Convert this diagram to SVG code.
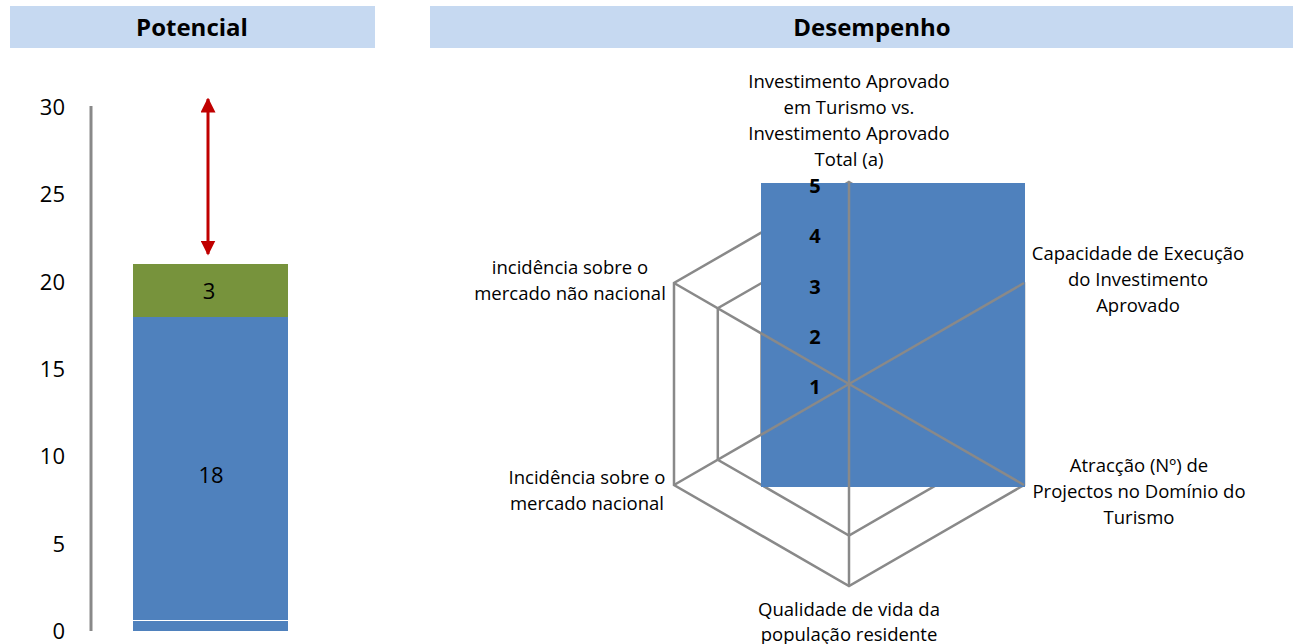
<svg xmlns="http://www.w3.org/2000/svg" width="1293" height="644" viewBox="0 0 1293 644">
<style>
.hdr{fill:#C6D9F1}
.ht{font-family:"Open Sans","Liberation Sans",sans-serif;font-weight:bold;font-size:24px;fill:#000;text-anchor:middle}
.t{font-family:"Open Sans","Liberation Sans",sans-serif;font-size:18.5px;fill:#000;text-anchor:middle}
.ax{font-family:"Open Sans","Liberation Sans",sans-serif;font-size:22px;fill:#000;text-anchor:end}
.bl{font-family:"Open Sans","Liberation Sans",sans-serif;font-size:22px;fill:#000;text-anchor:middle}
.sc{font-family:"Open Sans","Liberation Sans",sans-serif;font-weight:bold;font-size:20px;fill:#000;text-anchor:middle}
.grid{fill:none;stroke:#898989;stroke-width:2.5;stroke-linejoin:miter}
.axis{stroke:#898989;stroke-width:2.5}
</style>
<defs>
<marker id="ah" viewBox="0 0 10 10" refX="9" refY="5" markerWidth="5" markerHeight="5" orient="auto-start-reverse" markerUnits="strokeWidth">
<path d="M0,0 L10,5 L0,10 z" fill="#C00000"/>
</marker>
</defs>
<rect width="1293" height="644" fill="#fff"/>
<g id="header-potencial">
<rect class="hdr" x="10" y="6" width="365" height="42"/>
<text class="ht" x="192" y="36">Potencial</text>
</g>
<g id="header-desempenho">
<rect class="hdr" x="430" y="6" width="863" height="42"/>
<text class="ht" x="872" y="36">Desempenho</text>
</g>
<g id="bar-chart">
<line x1="91" y1="106" x2="91" y2="631" stroke="#898989" stroke-width="3"/>
<text class="ax" x="65" y="115">30</text>
<text class="ax" x="65" y="202">25</text>
<text class="ax" x="65" y="290">20</text>
<text class="ax" x="65" y="377">15</text>
<text class="ax" x="65" y="464">10</text>
<text class="ax" x="65" y="552">5</text>
<text class="ax" x="65" y="639">0</text>
<rect x="133" y="621" width="155" height="10" fill="#4F81BD"/>
<rect x="133" y="317" width="155" height="303" fill="#4F81BD"/>
<rect x="133" y="264" width="155" height="53" fill="#77933C"/>
<text class="bl" x="209" y="299">3</text>
<text class="bl" x="211" y="483">18</text>
</g>
<g id="connectors">
<line x1="208" y1="99" x2="208" y2="254" stroke="#C00000" stroke-width="3" marker-start="url(#ah)" marker-end="url(#ah)"/>
</g>
<g id="radar-chart">
<polygon class="grid" points="849,182 1024,283 1024,485 849,586 674,485 674,283"/>
<polygon class="grid" points="849,232.5 980.2,308.25 980.2,459.75 849,535.5 717.8,459.75 717.8,308.25"/>
<polygon class="grid" points="849,283 936.5,333.5 936.5,434.5 849,485 761.5,434.5 761.5,333.5"/>
<rect x="761" y="183" width="264" height="304" fill="#4F81BD"/>
<line class="axis" x1="849" y1="384" x2="849" y2="182"/>
<line class="axis" x1="849" y1="384" x2="1024" y2="283"/>
<line class="axis" x1="849" y1="384" x2="1024" y2="485"/>
<line class="axis" x1="849" y1="384" x2="849" y2="586"/>
<line class="axis" x1="849" y1="384" x2="674" y2="485"/>
<line class="axis" x1="849" y1="384" x2="674" y2="283"/>
<text class="sc" x="815" y="193">5</text>
<text class="sc" x="815" y="243">4</text>
<text class="sc" x="815" y="294">3</text>
<text class="sc" x="815" y="344">2</text>
<text class="sc" x="815" y="394">1</text>
</g>
<g id="label-top">
<text class="t" x="849" y="88">Investimento Aprovado</text>
<text class="t" x="849" y="114">em Turismo vs.</text>
<text class="t" x="849" y="140">Investimento Aprovado</text>
<text class="t" x="849" y="166">Total (a)</text>
</g>
<g id="label-upper-right">
<text class="t" x="1138" y="260">Capacidade de Execução</text>
<text class="t" x="1138" y="286">do Investimento</text>
<text class="t" x="1138" y="312">Aprovado</text>
</g>
<g id="label-lower-right">
<text class="t" x="1139" y="472">Atracção (Nº) de</text>
<text class="t" x="1139" y="498">Projectos no Domínio do</text>
<text class="t" x="1139" y="524">Turismo</text>
</g>
<g id="label-bottom">
<text class="t" x="849" y="616">Qualidade de vida da</text>
<text class="t" x="849" y="641">população residente</text>
</g>
<g id="label-lower-left">
<text class="t" x="587" y="484">Incidência sobre o</text>
<text class="t" x="587" y="510">mercado nacional</text>
</g>
<g id="label-upper-left">
<text class="t" x="570" y="274">incidência sobre o</text>
<text class="t" x="570" y="300">mercado não nacional</text>
</g>
</svg>
